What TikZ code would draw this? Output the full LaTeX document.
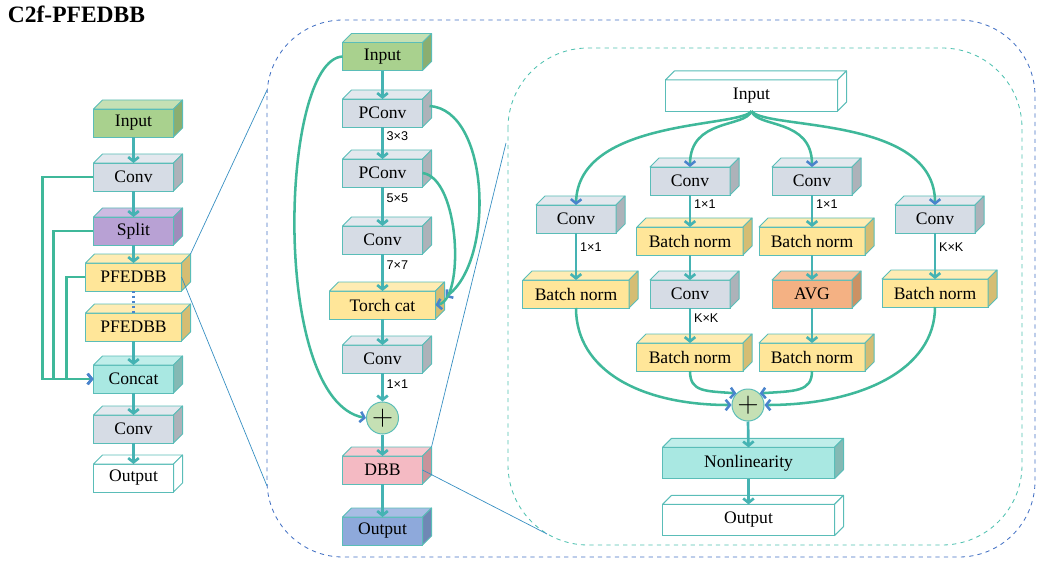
\documentclass[tikz,border=0pt]{standalone}
\usepackage{fontspec}
\setmainfont{Liberation Serif}
\newfontfamily\lblfont{Liberation Sans}
\usetikzlibrary{positioning,arrows.meta}

\definecolor{edge}{HTML}{5ABDB8}
\definecolor{link}{HTML}{45B3B3}
\definecolor{curve}{HTML}{3FB89A}
\definecolor{tipblue}{HTML}{4A84CC}
\definecolor{dash1}{HTML}{4472C4}
\definecolor{dash2}{HTML}{4FC1B0}
\definecolor{cgreen}{HTML}{A9D18E}\definecolor{cgreentop}{HTML}{C5E0B4}\definecolor{cgreenside}{HTML}{8BAE70}
\definecolor{cgray}{HTML}{D6DCE5}\definecolor{cgraytop}{HTML}{E3E8EE}\definecolor{cgrayside}{HTML}{ADB2B9}
\definecolor{cpurple}{HTML}{B8A1D4}\definecolor{cpurpletop}{HTML}{CDBBE2}\definecolor{cpurpleside}{HTML}{A08CBC}
\definecolor{cyellow}{HTML}{FFE699}\definecolor{cyellowtop}{HTML}{FFECB3}\definecolor{cyellowside}{HTML}{D5BD73}
\definecolor{cteal}{HTML}{A9E8E2}\definecolor{ctealtop}{HTML}{C0EEEA}\definecolor{ctealside}{HTML}{84B9B4}
\definecolor{cpink}{HTML}{F4BAC3}\definecolor{cpinktop}{HTML}{F7CAD1}\definecolor{cpinkside}{HTML}{C8939B}
\definecolor{cblue}{HTML}{8EA9DB}\definecolor{cbluetop}{HTML}{A8BDE4}\definecolor{cblueside}{HTML}{6F88B5}
\definecolor{corange}{HTML}{F4B183}\definecolor{corangetop}{HTML}{F7C4A0}\definecolor{corangeside}{HTML}{CC9164}
\definecolor{cwhite}{HTML}{FFFFFF}\definecolor{cwhitetop}{HTML}{FFFFFF}\definecolor{cwhiteside}{HTML}{FFFFFF}

\tikzset{
  blk/.style={draw=edge, line width=0.7pt, outer sep=0pt, inner sep=0pt, minimum height=0.7cm,
    font=\fontsize{12.5}{14}\selectfont},
  face/.style={draw=edge, line width=0.7pt, line join=round},
  narrow/.style={minimum width=2cm},
  mid/.style={minimum width=2.4cm},
  wide/.style={minimum width=2.65cm},
  long/.style={minimum width=4.3cm, minimum height=0.78cm},
  plus/.style={circle, draw=edge, line width=0.7pt, fill=cgreentop, minimum size=0.8cm, inner sep=0pt,
    font=\fontsize{22}{22}\selectfont},
  link/.style={draw=link, line width=1.9pt},
  curve/.style={draw=curve, line width=1.8pt, >={Straight Barb[length=3pt,width=7.5pt,color=tipblue]}},
  lbl/.style={right, inner sep=2pt, pos=.3, font=\lblfont\fontsize{9}{10}\selectfont},
  outbox/.style={draw=dash1, dashed, line width=0.6pt, rounded corners=1.9cm},
  inbox/.style={draw=dash2, dashed, line width=0.6pt, rounded corners=2cm},
  zoomln/.style={draw=link!80!blue, line width=0.5pt}
}

% block with top and side face
\newcommand{\dep}{9}
\newcommand{\blk}[5]{%
  \node[blk,#3,fill=#4] (#1) at (#2) {#5};
  \filldraw[face,fill=#4top] (#1.north west) -- ++(\dep,-\dep) -- ([shift={(\dep,-\dep)}]#1.north east) -- (#1.north east) -- cycle;
  \filldraw[face,fill=#4side] (#1.north east) -- ++(\dep,-\dep) -- ([shift={(\dep,-\dep)}]#1.south east) -- (#1.south east) -- cycle;
}

\begin{document}
\begin{tikzpicture}[x=0.025cm, y=-0.025cm, >={Straight Barb[length=3pt,width=7.5pt]}]
    \useasboundingbox (0,0) rectangle (1041,566);

    \node[anchor=west, font=\fontsize{16.7}{18}\selectfont\bfseries] (title) at (3,14) {C2f-PFEDBB};

    % frames
    \draw[outbox] (267,20) rectangle (1035,557);
    \draw[inbox] (508,48) rectangle (1022,545);

    % left column
    \blk{lin}{133.5,123}{narrow}{cgreen}{Input}
    \blk{lc1}{133.5,177}{narrow}{cgray}{Conv}
    \blk{lsp}{133.5,231}{narrow}{cpurple}{Split}
    \blk{lp1}{133.5,277}{mid}{cyellow}{PFEDBB}
    \blk{lp2}{133.5,327}{mid}{cyellow}{PFEDBB}
    \blk{lcat}{133.5,379}{narrow}{cteal}{Concat}
    \blk{lc2}{133.5,429}{narrow}{cgray}{Conv}
    \blk{lout}{133.5,478}{narrow}{cwhite}{Output}

    % middle column
    \blk{min}{382.5,56.5}{narrow}{cgreen}{Input}
    \blk{mp1}{382.5,113}{narrow}{cgray}{PConv}
    \blk{mp2}{382.5,173}{narrow}{cgray}{PConv}
    \blk{mc1}{382.5,240}{narrow}{cgray}{Conv}
    \blk{mtc}{382.5,305}{wide}{cyellow}{Torch cat}
    \blk{mc2}{382.5,359}{narrow}{cgray}{Conv}
    \node[plus] (mplus) at (382.5,418) {$+$};
    \blk{mdbb}{382.5,470}{narrow}{cpink}{DBB}
    \blk{mout}{382.5,531}{narrow}{cblue}{Output}

    % right part
    \blk{rin}{751.5,95.5}{long}{cwhite}{Input}
    \blk{rc1}{576,219}{narrow}{cgray}{Conv}
    \blk{rb1}{576,294}{wide}{cyellow}{Batch norm}
    \blk{rc2}{690,181}{narrow}{cgray}{Conv}
    \blk{rb2}{690,241}{wide}{cyellow}{Batch norm}
    \blk{rk2}{690,294}{narrow}{cgray}{Conv}
    \blk{rbb2}{690,357}{wide}{cyellow}{Batch norm}
    \blk{rc3}{812,181}{narrow}{cgray}{Conv}
    \blk{rb3}{812,241}{wide}{cyellow}{Batch norm}
    \blk{ravg}{812,294}{narrow}{corange}{AVG}
    \blk{rbb3}{812,357}{wide}{cyellow}{Batch norm}
    \blk{rc4}{935,219}{narrow}{cgray}{Conv}
    \blk{rb4}{935,293}{wide}{cyellow}{Batch norm}
    \node[plus] (rplus) at (748,405) {$+$};
    \blk{rnl}{748.5,463}{long}{cteal}{Nonlinearity}
    \blk{rout}{748.5,520}{long}{cwhite}{Output}

    % zoom lines
    \coordinate (za) at (267,90);
    \coordinate (zb) at (267,486);
    \coordinate (zc) at (506,143);
    \coordinate (zd) at (547,534);
    \draw[zoomln] ([shift={(9,-9)}]lp1.north east) -- (za);
    \draw[zoomln] (lp1.east) -- (zb);
    \draw[zoomln] ([shift={(9,-9)}]mdbb.north east) -- (zc);
    \draw[zoomln] (mdbb.east) -- (zd);

    % left connectors
    \draw[link,->] (lin.south) -- (lc1.north);
    \draw[link,->] (lc1.south) -- (lsp.north);
    \draw[link,->] (lsp.south) -- (lp1.north);
    \draw[tipblue, line width=1.5pt, dash pattern=on 1.5pt off 2pt] (lp1.south) -- (lp2.north);
    \draw[link,->] (lp2.south) -- (lcat.north);
    \draw[link,->] (lcat.south) -- (lc2.north);
    \draw[link,->] (lc2.south) -- (lout.north);
    \draw[curve,->] (lc1.west) -- ++(-51,0) |- (lcat.west);
    \draw[curve,->] (lsp.west) -- ++(-40,0) |- (lcat.west);
    \draw[curve,->] (lp1.west) -- ++(-19,0) |- (lcat.west);

    % middle connectors
    \draw[link,->] (min.south) -- (mp1.north);
    \draw[link,->] (mp1.south) -- node[lbl] (k1) {3×3} (mp2.north);
    \draw[link,->] (mp2.south) -- node[lbl] (k2) {5×5} (mc1.north);
    \draw[link,->] (mc1.south) -- node[lbl] (k3) {7×7} (mtc.north);
    \draw[link,->] (mtc.south) -- (mc2.north);
    \draw[link,->] (mc2.south) -- node[lbl, pos=.4] (k4) {1×1} (mplus.north);
    \draw[link,->] (mplus.south) -- (mdbb.north);
    \draw[link,->] (mdbb.south) -- (mout.north);
    \draw[curve,->] (min.west) .. controls (280,60) and (270,400) .. (mplus.west);
    \draw[curve,->] ([shift={(7,-7)}]mp1.east) .. controls (490,110) and (495,260) .. ([shift={(10,-8)}]mtc.east);
    \draw[curve,->] (mp2.east) .. controls (460,178) and (465,300) .. (mtc.east);

    % right connectors
    \draw[curve,->] (rin.south) .. controls (740,128) and (578,118) .. (rc1.north);
    \draw[curve,->] (rin.south) .. controls (745,128) and (690,118) .. (rc2.north);
    \draw[curve,->] (rin.south) .. controls (757,128) and (812,118) .. (rc3.north);
    \draw[curve,->] (rin.south) .. controls (765,130) and (935,115) .. (rc4.north);
    \draw[link,->] (rc1.south) -- node[lbl] (k5) {1×1} (rb1.north);
    \draw[link,->] (rc2.south) -- node[lbl] (k6) {1×1} (rb2.north);
    \draw[link,->] (rb2.south) -- (rk2.north);
    \draw[link,->] (rk2.south) -- node[lbl] (k7) {K×K} (rbb2.north);
    \draw[link,->] (rc3.south) -- node[lbl] (k8) {1×1} (rb3.north);
    \draw[link,->] (rb3.south) -- (ravg.north);
    \draw[link,->] (ravg.south) -- (rbb3.north);
    \draw[link,->] (rc4.south) -- node[lbl] (k9) {K×K} (rb4.north);
    \draw[curve,->] (rb1.south) .. controls (576,370) and (640,405) .. (rplus.west);
    \draw[curve,->] (rbb2.south) .. controls (690,392) and (705,391) .. (rplus.north west);
    \draw[curve,->] (rbb3.south) .. controls (812,392) and (795,391) .. (rplus.north east);
    \draw[curve,->] (rb4.south) .. controls (935,370) and (860,405) .. (rplus.east);
    \draw[link,->] (rplus.south) -- (rnl.north);
    \draw[link,->] (rnl.south) -- (rout.north);

\end{tikzpicture}
\end{document}
